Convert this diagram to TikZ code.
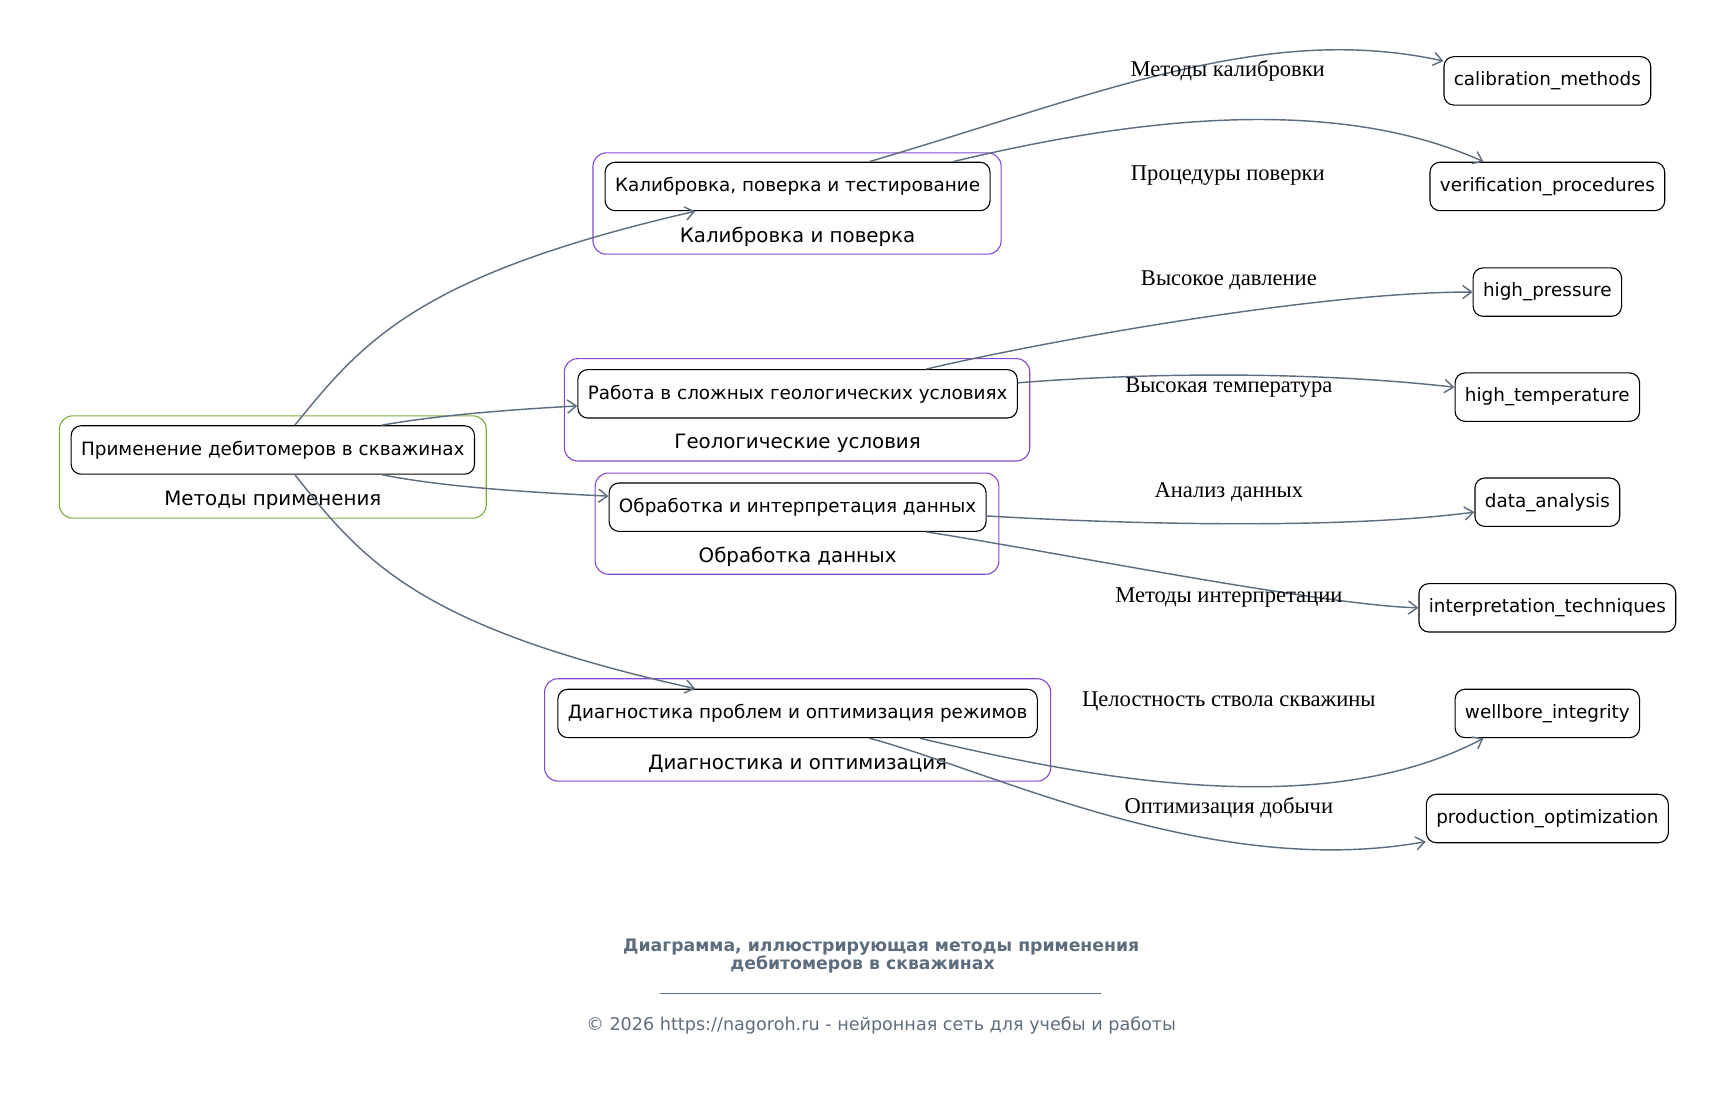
\documentclass[tikz,border=0pt]{standalone}
\usepackage{fontspec}
\setmainfont{DejaVu Sans}
\newfontfamily\edgefont{Liberation Serif}
\usetikzlibrary{arrows.meta}
\definecolor{edgegray}{HTML}{5D6D7E}
\definecolor{clpurple}{HTML}{8448D0}
\definecolor{clgreen}{HTML}{7CAD3C}
\begin{document}
\begin{tikzpicture}[x=1pt,y=-1pt,
    box/.style={draw,rounded corners=9pt,line width=1pt,font=\fontsize{16.7}{19}\selectfont,minimum height=44pt,inner xsep=9pt},
    cluster/.style={draw=#1,rounded corners=12pt,line width=1pt},
    cltext/.style={font=\fontsize{18}{21}\selectfont},
    elabel/.style={font=\edgefont\fontsize{20.5}{23}\selectfont},
    link/.style={draw=edgegray,line width=1.3pt,-{Straight Barb[length=8pt,width=12pt]}}]
    \useasboundingbox (0,0) rectangle (1568,1008);
    \draw[cluster=clgreen] (54,378) rectangle (442,471);
    \draw[cluster=clpurple] (539,139) rectangle (910,231);
    \draw[cluster=clpurple] (513,326) rectangle (936,419);
    \draw[cluster=clpurple] (541,430) rectangle (908,522);
    \draw[cluster=clpurple] (495,617) rectangle (955,710);
    \node[cltext] (lmain) at (248,455) {Методы применения};
    \node[cltext] (lcalib) at (725,215) {Калибровка и поверка};
    \node[cltext] (lgeo) at (725,403) {Геологические условия};
    \node[cltext] (ldata) at (725,506) {Обработка данных};
    \node[cltext] (ldiag) at (725,694) {Диагностика и оптимизация};
    \node[box] (main) at (248,409) {Применение дебитомеров в скважинах};
    \node[box] (calib) at (725,169.5) {Калибровка, поверка и тестирование};
    \node[box] (geo) at (725,358) {Работа в сложных геологических условиях};
    \node[box] (data) at (725,461) {Обработка и интерпретация данных};
    \node[box] (diag) at (725,648.5) {Диагностика проблем и оптимизация режимов};
    \node[box] (calm) at (1406.5,73.5) {calibration\_methods};
    \node[box] (ver) at (1406.5,169.5) {verification\_procedures};
    \node[box] (hp) at (1406.5,265.5) {high\_pressure};
    \node[box] (ht) at (1406.5,361) {high\_temperature};
    \node[box] (da) at (1406.5,456.5) {data\_analysis};
    \node[box] (it) at (1406.5,552.5) {interpretation\_techniques};
    \node[box] (wb) at (1406.5,648.5) {wellbore\_integrity};
    \node[box] (po) at (1406.5,744) {production\_optimization};
    \draw[link] ([xshift=20]main.north) .. controls (330,310) and (380,250) .. ([xshift=-93]calib.south);
    \draw[link] ([xshift=99]main.north) .. controls (400,377) and (470,372) .. ([yshift=-11]geo.west);
    \draw[link] ([xshift=99]main.south) .. controls (400,442) and (470,447) .. ([yshift=10]data.west);
    \draw[link] ([xshift=20]main.south) .. controls (330,510) and (380,570) .. ([xshift=-93]diag.north);
    \draw[link] ([xshift=65]calib.north) .. controls (1000,85) and (1150,20) .. ([yshift=18]calm.west);
    \draw[link] ([xshift=141]calib.north) .. controls (1000,115) and (1200,80) .. ([xshift=-58]ver.north);
    \draw[link] ([xshift=117]geo.north) .. controls (950,310) and (1200,265) .. (hp.west);
    \draw[link] ([yshift=10]geo.east) .. controls (1050,338) and (1200,338) .. ([yshift=9]ht.west);
    \draw[link] ([yshift=-8]data.east) .. controls (1050,478) and (1230,480) .. ([yshift=-9]da.west);
    \draw[link] ([xshift=117]data.south) .. controls (950,500) and (1200,550) .. (it.west);
    \draw[link] ([xshift=111]diag.south) .. controls (980,705) and (1200,750) .. ([xshift=-58]wb.south);
    \draw[link] ([xshift=65]diag.south) .. controls (900,700) and (1100,800) .. ([yshift=-21]po.west);
    \node[elabel] (e1) at (1116,64) {Методы калибровки};
    \node[elabel] (e2) at (1116,160) {Процедуры поверки};
    \node[elabel] (e3) at (1117,255) {Высокое давление};
    \node[elabel] (e4) at (1117,352) {Высокая температура};
    \node[elabel] (e5) at (1117,447) {Анализ данных};
    \node[elabel] (e6) at (1117,543) {Методы интерпретации};
    \node[elabel] (e7) at (1117,638) {Целостность ствола скважины};
    \node[elabel] (e8) at (1117,734) {Оптимизация добычи};
    \node[font=\bfseries\fontsize{15.7}{16.5}\selectfont,text=edgegray,align=center] (title) at (801,869) {Диаграмма, иллюстрирующая методы применения\\дебитомеров в скважинах\hspace*{34pt}};
    \coordinate (rl) at (600,903);
    \coordinate (rr) at (1001,903);
    \draw[edgegray,line width=0.8pt] (rl) -- (rr);
    \node[font=\fontsize{16}{18}\selectfont,text=edgegray] (foot) at (801,932) {© 2026 https://nagoroh.ru - нейронная сеть для учебы и работы};
\end{tikzpicture}
\end{document}
